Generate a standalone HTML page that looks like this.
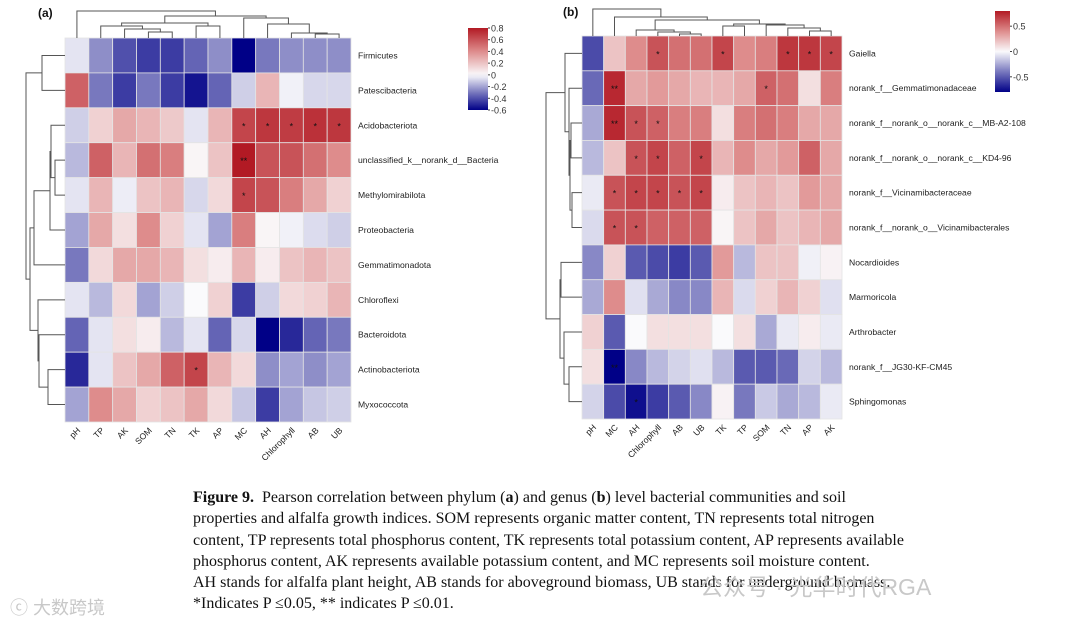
<!DOCTYPE html>
<html><head><meta charset="utf-8">
<style>
body{margin:0;background:#fff;width:1080px;height:626px;overflow:hidden;position:relative;font-family:"Liberation Sans",sans-serif}
#cap{position:absolute;left:193px;top:487px;font-family:"Liberation Serif",serif;font-size:16px;line-height:21.3px;color:#111;white-space:nowrap}
.wm{position:absolute;color:#c8c8c8;font-family:"Liberation Sans","Noto Sans CJK SC",sans-serif}
</style></head><body>
<svg id="chart" width="1080" height="480" style="position:absolute;left:0;top:0" font-family="Liberation Sans, sans-serif"></svg>
<div id="cap"><b>Figure 9.</b>&nbsp; Pearson correlation between phylum (<b>a</b>) and genus (<b>b</b>) level bacterial communities and soil<br>properties and alfalfa growth indices. SOM represents organic matter content, TN represents total nitrogen<br>content, TP represents total phosphorus content, TK represents total potassium content, AP represents available<br>phosphorus content, AK represents available potassium content, and MC represents soil moisture content.<br>AH stands for alfalfa plant height, AB stands for aboveground biomass, UB stands for underground biomass.<br>*Indicates P ≤0.05, ** indicates P ≤0.01.</div>
<div class="wm" style="left:10px;top:594px;font-size:18px">ⓒ 大数跨境</div>
<div class="wm" style="left:700px;top:568px;font-size:23px">公众号 · 光华时代RGA</div>
<script>
const colsA=["pH","TP","AK","SOM","TN","TK","AP","MC","AH","Chlorophyll","AB","UB"];
const rowsA=["Firmicutes","Patescibacteria","Acidobacteriota","unclassified_k__norank_d__Bacteria","Methylomirabilota","Proteobacteria","Gemmatimonadota","Chloroflexi","Bacteroidota","Actinobacteriota","Myxococcota"];
const valsA=[
[-0.05,-0.25,-0.4,-0.45,-0.45,-0.35,-0.25,-0.6,-0.3,-0.25,-0.25,-0.25],
[0.55,-0.3,-0.45,-0.3,-0.45,-0.55,-0.35,-0.1,0.25,-0.02,-0.08,-0.08],
[-0.1,0.15,0.3,0.25,0.18,-0.05,0.25,0.65,0.7,0.68,0.72,0.7],
[-0.15,0.55,0.25,0.5,0.45,0.02,0.2,0.8,0.6,0.6,0.5,0.4],
[-0.05,0.25,-0.03,0.2,0.25,-0.08,0.12,0.65,0.6,0.45,0.3,0.15],
[-0.2,0.3,0.1,0.4,0.15,-0.05,-0.2,0.45,0.02,-0.02,-0.07,-0.1],
[-0.3,0.12,0.3,0.3,0.25,0.1,0.05,0.25,0.05,0.2,0.25,0.2],
[-0.05,-0.15,0.12,-0.2,-0.1,0,0.15,-0.45,-0.1,0.12,0.15,0.25],
[-0.35,-0.05,0.1,0.05,-0.15,-0.05,-0.35,-0.08,-0.6,-0.5,-0.35,-0.3],
[-0.5,-0.05,0.2,0.3,0.55,0.65,0.25,0.12,-0.25,-0.2,-0.25,-0.2],
[-0.2,0.4,0.3,0.15,0.2,0.3,0.12,-0.12,-0.45,-0.2,-0.12,-0.1]];
const sigA=[
["","","","","","","","","","","",""],
["","","","","","","","","","","",""],
["","","","","","","","*","*","*","*","*"],
["","","","","","","","**","","","",""],
["","","","","","","","*","","","",""],
["","","","","","","","","","","",""],
["","","","","","","","","","","",""],
["","","","","","","","","","","",""],
["","","","","","","","","","","",""],
["","","","","","*","","","","","",""],
["","","","","","","","","","","",""]];
const ticksA=["0.8","0.6","0.4","0.2","0","-0.2","-0.4","-0.6"];
const colsB=["pH","MC","AH","Chlorophyll","AB","UB","TK","TP","SOM","TN","AP","AK"];
const rowsB=["Gaiella","norank_f__Gemmatimonadaceae","norank_f__norank_o__norank_c__MB-A2-108","norank_f__norank_o__norank_c__KD4-96","norank_f__Vicinamibacteraceae","norank_f__norank_o__Vicinamibacterales","Nocardioides","Marmoricola","Arthrobacter","norank_f__JG30-KF-CM45","Sphingomonas"];
const valsB=[
[-0.55,0.2,0.4,0.6,0.5,0.5,0.65,0.4,0.45,0.7,0.7,0.65],
[-0.45,0.75,0.3,0.35,0.3,0.25,0.25,0.3,0.55,0.5,0.1,0.45],
[-0.25,0.75,0.6,0.55,0.45,0.45,0.1,0.45,0.5,0.45,0.3,0.3],
[-0.2,0.2,0.6,0.65,0.55,0.65,0.25,0.4,0.3,0.35,0.55,0.3],
[-0.05,0.6,0.65,0.65,0.6,0.65,0.05,0.2,0.25,0.2,0.35,0.3],
[-0.1,0.6,0.6,0.55,0.55,0.55,0.02,0.2,0.3,0.2,0.25,0.3],
[-0.35,0.15,-0.5,-0.55,-0.6,-0.5,0.35,-0.2,0.2,0.2,-0.03,0.03],
[-0.25,0.4,-0.08,-0.25,-0.35,-0.35,0.25,-0.1,0.15,0.25,0.15,-0.08],
[0.15,-0.5,0,0.1,0.1,0.1,0,0.1,-0.25,-0.05,0.05,-0.05],
[0.1,-0.8,-0.35,-0.2,-0.12,-0.08,-0.2,-0.5,-0.5,-0.45,-0.12,-0.2],
[-0.12,-0.55,-0.75,-0.6,-0.5,-0.35,0.03,-0.4,-0.15,-0.25,-0.2,-0.05]];
const sigB=[
["","","","*","","","*","","","*","*","*"],
["","**","","","","","","","*","","",""],
["","**","*","*","","","","","","","",""],
["","","*","*","","*","","","","","",""],
["","*","*","*","*","*","","","","","",""],
["","*","*","","","","","","","","",""],
["","","","","","","","","","","",""],
["","","","","","","","","","","",""],
["","","","","","","","","","","",""],
["","**","","","","","","","","","",""],
["","","*","","","","","","","","",""]];
const ticksB=["0.5","0","-0.5"];

const NS="http://www.w3.org/2000/svg";
const svg=document.getElementById('chart');
function mk(t,a,p){const e=document.createElementNS(NS,t);for(const k in a)e.setAttribute(k,a[k]);(p||svg).appendChild(e);return e;}
function lerp(a,b,t){return a.map((v,i)=>Math.round(v+(b[i]-v)*t));}
function color(v,min,max){
  const W=[250,250,252],R1=[222,140,140],R2=[178,26,36],B1=[120,120,190],B2=[0,0,135];
  let c;
  if(v>=0){const t=Math.min(v/max,1);c=t<0.5?lerp(W,R1,t*2):lerp(R1,R2,(t-0.5)*2);}
  else{const t=Math.min(v/min,1);c=t<0.5?lerp(W,B1,t*2):lerp(B1,B2,(t-0.5)*2);}
  return `rgb(${c[0]},${c[1]},${c[2]})`;
}
function dendro(tree,leafPos,base,horizontal,g,name){
  function walk(n){
    if(typeof n==='number')return {p:leafPos(n),v:base};
    const a=walk(n[0]),b=walk(n[1]);const h=n[2];
    let d;
    if(horizontal) d=`M${a.v},${a.p}H${h}V${b.p}H${b.v}`;
    else d=`M${a.p},${a.v}V${h}H${b.p}V${b.v}`;
    const el=mk('path',{d:d,fill:'none',stroke:'#555','stroke-width':1},g);
    
    
    return {p:(a.p+b.p)/2,v:h};
  }
  walk(tree);
}
function heat(o){
  const g=mk('g',{});
  
  
  const cw=(o.x1-o.x0)/o.cols.length,rh=(o.y1-o.y0)/o.rows.length;
  const X=i=>o.x0+i*cw,Y=j=>o.y0+j*rh;
  o.vals.forEach((row,j)=>row.forEach((v,i)=>{
    const r=mk('rect',{x:X(i),y:Y(j),width:cw,height:rh,fill:color(v,o.min,o.max),stroke:'#e4e4e4','stroke-width':0.8},g);
    
    
    if(o.sig[j][i]){const t=mk('text',{x:X(i)+cw/2,y:Y(j)+rh/2+4,'text-anchor':'middle','font-size':9,fill:'#111'},g);t.textContent=o.sig[j][i];
      
      }
  }));
  o.rows.forEach((r,j)=>{const t=mk('text',{x:o.x1+7,y:Y(j)+rh/2+3,'font-size':8.6,fill:'#222'},g);t.textContent=r;
    
    });
  o.cols.forEach((c,i)=>{const cx=X(i)+cw/2+4,cy=o.y1+9;const t=mk('text',{x:cx,y:cy,'font-size':8.6,fill:'#222','text-anchor':'end',transform:`rotate(-45 ${cx} ${cy})`},g);t.textContent=c;
    
    });
  dendro(o.ctree,i=>X(i)+cw/2,o.y0,false,g,'column-dendrogram');
  dendro(o.rtree,j=>Y(j)+rh/2,o.x0,true,g,'row-dendrogram');
  const id='grad'+o.name;const defs=mk('defs',{},g);const lg=mk('linearGradient',{id:id,x1:0,y1:0,x2:0,y2:1},defs);
  for(let k=0;k<=20;k++){const v=o.max-(o.max-o.min)*k/20;mk('stop',{offset:k/20,'stop-color':color(v,o.min,o.max)},lg);}
  const cb=mk('rect',{x:o.cb[0],y:o.cb[1],width:o.cb[2],height:o.cb[3],fill:`url(#${id})`},g);
  
  
  o.ticks.forEach(tk=>{const v=parseFloat(tk);const y=o.cb[1]+(o.max-v)/(o.max-o.min)*o.cb[3];
    mk('line',{x1:o.cb[0]+o.cb[2],x2:o.cb[0]+o.cb[2]+2,y1:y,y2:y,stroke:'#444'},g);
    const t=mk('text',{x:o.cb[0]+o.cb[2]+3,y:y+3.5,'font-size':9,fill:'#333'},g);t.textContent=tk;
    
    });
  const p=mk('text',{x:o.panel[0],y:o.panel[1],'font-size':12,'font-weight':'bold',fill:'#111'},g);p.textContent=o.panelLabel;
  
  
}
heat({name:'heatmap-a',cols:colsA,rows:rowsA,vals:valsA,sig:sigA,ticks:ticksA,min:-0.6,max:0.8,
  x0:65,x1:351,y0:38,y1:422,cb:[468,28,20,82],panel:[38,17],panelLabel:'(a)',
  ctree:[0,[[[1,[2,[3,4,32],29],26],[5,6,26],23],[7,[8,[9,[10,11,34],33],24],18],16],11],
  rtree:[[0,1,42],[[[[2,[3,4,55],51],5,50],6,34],[7,[8,[9,10,48],39],38],30],26]});
heat({name:'heatmap-b',cols:colsB,rows:rowsB,vals:valsB,sig:sigB,ticks:ticksB,min:-0.8,max:0.8,
  x0:582,x1:842,y0:36,y1:419,cb:[995,11,15,81],panel:[563,16],panelLabel:'(b)',
  ctree:[0,[1,[[2,[3,[4,5,34],32],30],[[6,7,26],[8,[9,[10,11,31],28],25],24],20],17],9],
  rtree:[[0,[1,[[2,3,571],[4,5,572],570],569],565],[[6,7,561],[8,[9,10,569],564],560],546]});
</script>
</body></html>
